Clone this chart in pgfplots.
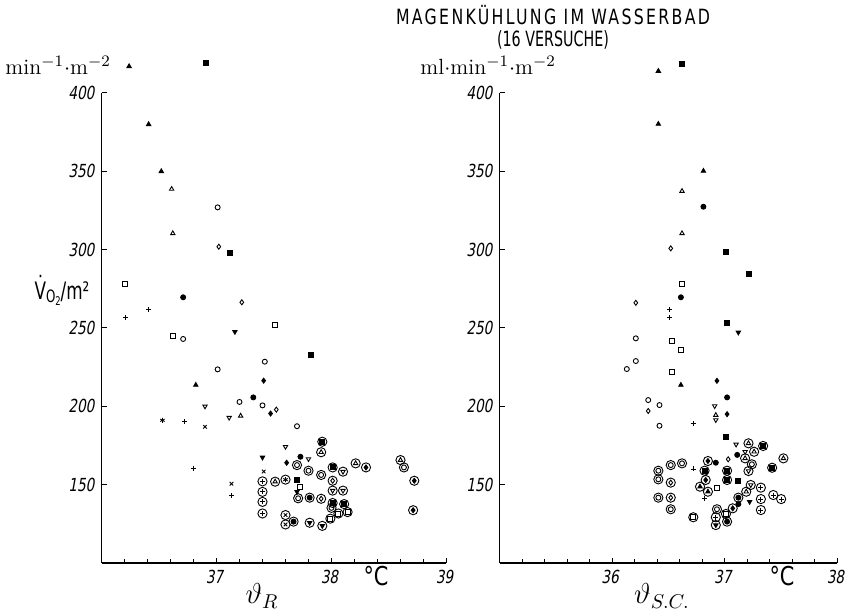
\documentclass[border=0pt]{standalone}
\usepackage{pgfplots}
\pgfplotsset{compat=1.18}
\usepackage{graphicx}
\usepackage{fontspec}
\newfontfamily\tickfont{DejaVu Sans}[FakeStretch=0.76,FakeSlant=0.18]
\newfontfamily\labfont{DejaVu Sans}[FakeStretch=0.8]
\newfontfamily\ylabfont{DejaVu Sans}[FakeStretch=0.7]
\newfontfamily\vfont{DejaVu Sans}[FakeStretch=0.68]
\newfontfamily\titlefont{DejaVu Sans}[FakeStretch=0.75,LetterSpace=11]

\pgfdeclareplotmark{itri}{%
  \pgfpathmoveto{\pgfqpointpolar{-90}{1\pgfplotmarksize}}%
  \pgfpathlineto{\pgfqpointpolar{30}{1\pgfplotmarksize}}%
  \pgfpathlineto{\pgfqpointpolar{150}{1\pgfplotmarksize}}%
  \pgfpathclose\pgfusepathqstroke}
\pgfdeclareplotmark{itri*}{%
  \pgfpathmoveto{\pgfqpointpolar{-90}{1\pgfplotmarksize}}%
  \pgfpathlineto{\pgfqpointpolar{30}{1\pgfplotmarksize}}%
  \pgfpathlineto{\pgfqpointpolar{150}{1\pgfplotmarksize}}%
  \pgfpathclose\pgfusepathqfillstroke}
\newcommand\circledmark[2]{\pgfdeclareplotmark{#1}{%
  \pgfpathcircle{\pgfpointorigin}{2.3pt}\pgfusepathqstroke\pgfuseplotmark{#2}}}
\circledmark{cplus}{+}
\circledmark{cotri}{triangle}
\circledmark{cftri}{triangle*}
\circledmark{cast}{asterisk}
\circledmark{coci}{o}
\circledmark{cfci}{*}
\circledmark{codia}{diamond}
\circledmark{cfdia}{diamond*}
\circledmark{cfsq}{square*}
\circledmark{cosq}{square}
\circledmark{coitri}{itri}
\circledmark{cfitri}{itri*}
\circledmark{ccross}{x}

\pgfplotsset{
  panel/.style={
    scale only axis, height=235pt, ymin=100, ymax=400,
    axis lines*=left,
    axis line style={line width=0.6pt},
    tick align=inside,
    major tick length=2.5pt, minor tick length=2pt,
    tick style={black, line width=0.5pt},
    ytick={150,200,250,300,350,400},
    yticklabels={150,200,250,300,350,400},
    ticklabel style={font=\tickfont\fontsize{9}{9}\selectfont},
    xticklabel style={xshift=-1pt},
    clip=false,
  },
  m/.style={only marks, black, mark=#1, mark size=1.25pt,
    mark options={line width=0.45pt, solid}},
}

\begin{document}
\begin{tikzpicture}
\useasboundingbox (0pt,0pt) rectangle (424pt,-307pt);

% ---------------- left panel ----------------
\begin{axis}[panel, at={(50.75pt,-281.5pt)}, anchor=south west,
  width=172.5pt, xmin=36, xmax=39,
  xtick={37,38,39}, xticklabels={37,38,39},
  minor xtick={36.2,36.4,36.6,36.8,37.2,37.4,37.6,37.8,38.2,38.4,38.6,38.8}]
\addplot[m=triangle*] coordinates {(36.24,417) (36.41,380) (36.52,350) (36.82,213.6)};
\addplot[m=square*] coordinates {(36.91,419) (37.12,298) (37.82,232.7) (37.70,153)};
\addplot[m=triangle] coordinates {(36.61,338.7) (36.62,310.4) (37.21,193.9)};
\addplot[m=o] coordinates {(37.01,327) (36.71,243) (37.42,228.5) (37.01,223.6) (37.20,202.8) (37.40,200.6) (37.70,187.3)};
\addplot[m=diamond] coordinates {(37.02,301.9) (37.22,266.4) (37.52,197.9)};
\addplot[m=square] coordinates {(36.20,277.9) (37.51,251.9) (36.62,244.9) (37.73,148.7)};
\addplot[m=*] coordinates {(36.71,269.6) (37.32,205.7) (37.73,167.8)};
\addplot[m=+] coordinates {(36.41,262) (36.21,256.8) (36.72,190.1) (36.80,160.6) (37.13,143.0)};
\addplot[m=itri*] coordinates {(37.16,247.6) (37.40,167.4) (37.70,145.5)};
\addplot[m=diamond*] coordinates {(37.41,216.4) (37.47,195.4) (37.61,164)};
\addplot[m=itri] coordinates {(36.90,200) (37.11,192.8) (37.60,174.2) (37.80,166.4)};
\addplot[m=x] coordinates {(36.90,186.9) (37.13,150.6) (37.41,158.4)};
\addplot[m=asterisk] coordinates {(36.53,191.1)};
% circled
\addplot[m=cplus] coordinates {(37.40,152.1) (37.40,145.4) (37.40,139.0) (37.40,131.6)};
\addplot[m=cotri] coordinates {(37.51,151.9) (37.91,170.7) (38.21,163.6) (38.60,165.7)};
\addplot[m=cast] coordinates {(37.60,153.2)};
\addplot[m=coci] coordinates {(37.70,162.5) (37.71,141.3) (37.80,158.9) (37.91,156.2) (38.0,135.2) (38.63,161)};
\addplot[m=cfci] coordinates {(37.81,141.7) (37.67,126.4)};
\addplot[m=codia] coordinates {(37.91,141) (38.01,152.5)};
\addplot[m=cfsq] coordinates {(37.92,177.4) (38.01,161) (38.01,138.3) (38.11,137.6)};
\addplot[m=cosq] coordinates {(38.06,131.6) (38.14,132.5) (37.99,128.3)};
\addplot[m=coitri] coordinates {(38.10,158.3) (38.01,146.2) (38.10,146.2)};
\addplot[m=cfdia] coordinates {(38.30,161) (38.72,152.5) (38.71,133.7)};
\addplot[m=ccross] coordinates {(37.60,130.6) (37.60,124.6)};
\addplot[m=cfitri] coordinates {(37.81,125.7) (37.92,123.7)};
\end{axis}

% ---------------- right panel ----------------
\begin{axis}[panel, at={(249.75pt,-281.5pt)}, anchor=south west,
  width=169pt, xmin=35, xmax=38,
  xtick={36,37,38}, xticklabels={36,37,38},
  minor xtick={35.2,35.4,35.6,35.8,36.2,36.4,36.6,36.8,37.2,37.4,37.6,37.8}]
\addplot[m=triangle*] coordinates {(36.41,414) (36.41,380.2) (36.81,350.2) (36.61,213.6)};
\addplot[m=square*] coordinates {(36.62,418.4) (37.01,298.3) (37.21,284.4) (37.02,253) (37.01,180.2) (37.12,152.5)};
\addplot[m=triangle] coordinates {(36.62,337.4) (36.62,310.4) (36.92,194.4)};
\addplot[m=*] coordinates {(36.81,327.4) (36.61,269.6) (37.02,205.7) (36.92,164) (37.12,137.6) (37.11,169)};
\addplot[m=diamond] coordinates {(36.52,300.8) (36.21,266.1) (36.32,197) (37.03,166.2)};
\addplot[m=square] coordinates {(36.62,277.9) (36.53,241.7) (36.61,235.9) (36.53,222.1) (36.93,148.1)};
\addplot[m=+] coordinates {(36.51,262.1) (36.51,256.5) (36.72,189.1) (36.72,160) (36.82,141.3)};
\addplot[m=itri*] coordinates {(37.12,247.2) (37.22,139.1)};
\addplot[m=o] coordinates {(36.21,243.4) (36.21,228.9) (36.13,223.8) (36.32,204) (36.42,200.8) (36.42,187.6)};
\addplot[m=diamond*] coordinates {(36.93,216.3) (37.02,195)};
\addplot[m=itri] coordinates {(36.91,200.2) (36.92,191.3) (37.10,175.7) (37.18,171)};
% circled
\addplot[m=cotri] coordinates {(37.21,176.4) (37.26,171) (37.52,166.8) (37.18,166.8) (37.19,145.5)};
\addplot[m=cfsq] coordinates {(37.34,174.7) (37.42,160.8) (36.82,158.9) (37.02,158.9) (37.02,153)};
\addplot[m=cfdia] coordinates {(36.85,165.1) (36.83,153) (37.07,134.9)};
\addplot[m=coci] coordinates {(36.41,158.9) (36.41,153.4) (36.41,141.7) (36.52,162.5) (36.62,163.6) (36.52,134.3) (36.93,134.3) (37.24,163)};
\addplot[m=codia] coordinates {(36.52,151.3) (36.52,141.7)};
\addplot[m=cftri] coordinates {(36.78,148.7) (36.85,145.5)};
\addplot[m=cosq] coordinates {(36.72,129.2) (37.01,131.3)};
\addplot[m=cplus] coordinates {(36.92,129.2) (37.32,148.1) (37.32,140.8) (37.32,133.8) (37.43,143.4) (37.50,140.8)};
\addplot[m=cfitri] coordinates {(36.92,124.2)};
\addplot[m=cfci] coordinates {(37.02,126.4) (37.12,141.7)};
\addplot[m=coitri] coordinates {(37.23,149.8) (37.21,158.7)};
\end{axis}

% ---------------- texts ----------------
\node[font=\titlefont\fontsize{10.5}{10.5}\selectfont] at (276.5pt,-7.5pt) {MAGENKÜHLUNG IM WASSERBAD};
\node[font=\vfont\fontsize{10.5}{10.5}\selectfont] at (276.5pt,-20pt) {(16 VERSUCHE)};
\node[anchor=west, inner sep=0pt, font=\fontsize{11}{11}\selectfont] at (2.5pt,-32.5pt) {min$^{-1}\cdot$m$^{-2}$};
\node[anchor=west, inner sep=0pt, font=\fontsize{11}{11}\selectfont] at (210pt,-32.5pt) {ml$\cdot$min$^{-1}\cdot$m$^{-2}$};
\node[inner sep=0pt, font=\ylabfont\fontsize{12}{12}\selectfont] at (31pt,-145pt) {\rlap{\hspace{0.9pt}\raisebox{3pt}{˙}}V\raisebox{-1.8pt}{\fontsize{8.5}{8.5}\selectfont O}\raisebox{-3pt}{\fontsize{6}{6}\selectfont 2}/m²};
\node[font=\labfont\fontsize{13}{13}\selectfont] at (188pt,-288pt) {°C};
\node[font=\labfont\fontsize{13}{13}\selectfont] at (391pt,-288pt) {°C};
\node[font=\fontsize{14}{14}\selectfont] at (131pt,-298pt) {$\vartheta_{R}$};
\node[font=\fontsize{14}{14}\selectfont] at (331pt,-298pt) {$\vartheta_{S.C.}$};
\end{tikzpicture}
\end{document}
